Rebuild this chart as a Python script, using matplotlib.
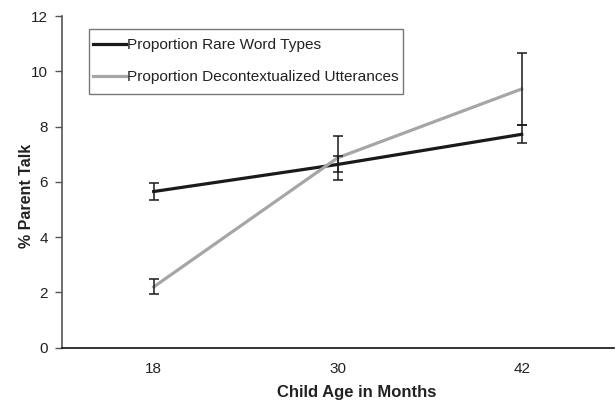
import matplotlib
matplotlib.use("Agg")
import matplotlib.pyplot as plt
from matplotlib.patches import Rectangle
import numpy as np

plt.rcParams['font.family'] = ['Liberation Sans', 'DejaVu Sans']

ages = ["18", "30", "42"]
rare_words = [5.65, 6.63, 7.72]
rare_err = [0.32, 0.29, 0.33]
decontext = [2.2, 6.87, 9.36]
decontext_err = [0.27, 0.80, 1.31]

W, H = 616, 401
fig = plt.figure(figsize=(W/100, H/100), dpi=100)
ax = fig.add_axes([61.7/W, 1-347.7/H, (613.7-61.7)/W, (347.7-16)/H])

x = np.arange(len(ages))
ax.plot(x, rare_words, color='#1a1a1a', lw=2.3, label='Proportion Rare Word Types', zorder=3)
ax.plot(x, decontext, color='#a6a6a6', lw=2.3, label='Proportion Decontextualized Utterances', zorder=3)
ax.errorbar(x, rare_words, yerr=rare_err, fmt='none', ecolor='#1a1a1a', elinewidth=1.1, capsize=3.5, capthick=1.1, zorder=4)
ax.errorbar(x, decontext, yerr=decontext_err, fmt='none', ecolor='#1a1a1a', elinewidth=1.1, capsize=3.5, capthick=1.1, zorder=4)

ax.set_xlim(-0.5, 2.5)
ax.set_ylim(0, 12)
ax.set_yticks(np.arange(0, 13, 2))
ax.set_xticks(x)
ax.set_xticklabels(ages)
ax.tick_params(axis='x', length=0, pad=10.5, labelsize=11, labelcolor='#222222')
ax.tick_params(axis='y', length=5, width=1, color='#555555', pad=4.8, labelsize=11, labelcolor='#222222')
for s in ['top', 'right']:
    ax.spines[s].set_visible(False)
ax.spines['left'].set_color('#555555')
ax.spines['left'].set_linewidth(1.2)
ax.spines['bottom'].set_color('#111111')
ax.spines['bottom'].set_linewidth(1.2)

fig.text(357/W, 1-392/H, 'Child Age in Months', fontsize=12, fontweight='bold',
         ha='center', va='center', color='#222222')
fig.text(27/W, 1-196/H, '% Parent Talk', fontsize=11.5, fontweight='bold',
         ha='center', va='center', rotation=90, color='#222222')

# legend frame
fig.patches.append(Rectangle((89/W, 1-94/H), (402.7-89)/W, (94-29)/H,
                             transform=fig.transFigure, fill=True, facecolor='white',
                             edgecolor='#777777', linewidth=1.0, zorder=5))
leg = fig.legend(*ax.get_legend_handles_labels(), loc='center left',
                 bbox_to_anchor=(93.3/W, 1-61.2/H),
                 frameon=False, fontsize=11.1,
                 handlelength=2.1, handletextpad=0.1, borderpad=0, labelspacing=1.2,
                 borderaxespad=0)
leg.set_zorder(6)
for t in leg.get_texts():
    t.set_color('#222222')

fig.savefig('out.png', dpi=100)
